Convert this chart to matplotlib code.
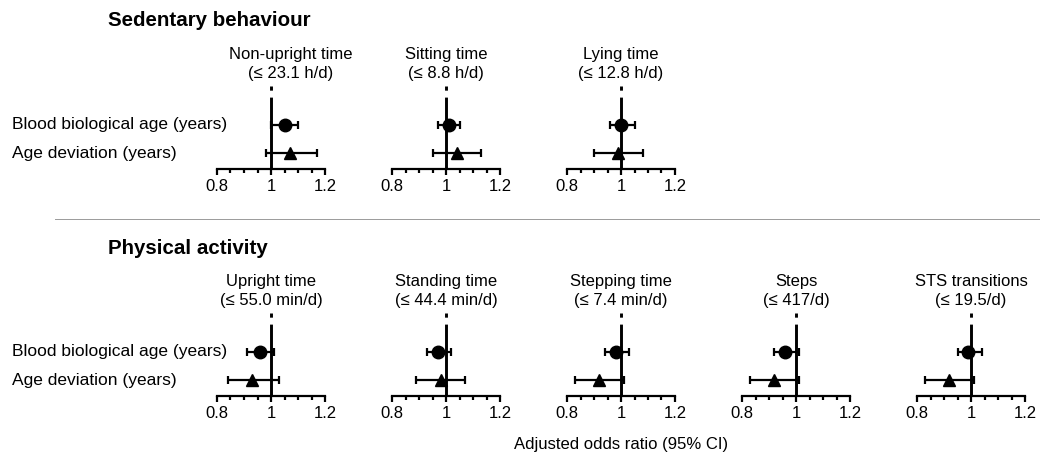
import matplotlib
import matplotlib.pyplot as plt
from matplotlib.ticker import MultipleLocator
from matplotlib.transforms import blended_transform_factory

matplotlib.use("Agg")

plt.rcParams["font.family"] = ["Liberation Sans", "DejaVu Sans"]
plt.rcParams["font.size"] = 12
plt.rcParams["lines.scale_dashes"] = False

# Sedentary behaviour (odds ratio, lower CI, upper CI)
sed_names = ["Non-upright time", "Sitting time", "Lying time"]
sed_cuts = ["(≤ 23.1 h/d)", "(≤ 8.8 h/d)", "(≤ 12.8 h/d)"]
sed_bio_or = [1.05, 1.01, 1.00]
sed_bio_lo = [1.00, 0.97, 0.96]
sed_bio_hi = [1.10, 1.05, 1.05]
sed_dev_or = [1.07, 1.04, 0.99]
sed_dev_lo = [0.98, 0.95, 0.90]
sed_dev_hi = [1.17, 1.13, 1.08]

# Physical activity
pa_names = ["Upright time", "Standing time", "Stepping time", "Steps", "STS transitions"]
pa_cuts = ["(≤ 55.0 min/d)", "(≤ 44.4 min/d)", "(≤ 7.4 min/d)", "(≤ 417/d)", "(≤ 19.5/d)"]
pa_bio_or = [0.96, 0.97, 0.98, 0.96, 0.99]
pa_bio_lo = [0.91, 0.93, 0.94, 0.92, 0.95]
pa_bio_hi = [1.01, 1.02, 1.03, 1.01, 1.04]
pa_dev_or = [0.93, 0.98, 0.92, 0.92, 0.92]
pa_dev_lo = [0.84, 0.89, 0.83, 0.83, 0.83]
pa_dev_hi = [1.03, 1.07, 1.01, 1.01, 1.01]

row_labels = ["Blood biological age (years)", "Age deviation (years)"]
tick_values = [0.8, 1.0, 1.2]
tick_labels = ["0.8", "1", "1.2"]
xlabel = "Adjusted odds ratio (95% CI)"

# layout in pixels
W, H = 1040, 455
PANEL_W, PANEL_H = 108, 83
PANEL_LEFTS = [217, 392, 567, 742, 917]
Y_BIO, Y_DEV = 0.535, 0.19
LW = 1.6

fig = plt.figure(figsize=(W / 100, H / 100), dpi=100)


def draw_panel(left, axis_y, name, cut, bio, dev, title_dx=0):
    ax = fig.add_axes([left / W, 1 - axis_y / H, PANEL_W / W, PANEL_H / H])
    ax.set_xlim(0.8, 1.2)
    ax.set_ylim(0, 1)
    ax.patch.set_visible(False)

    # reference line at OR = 1
    ax.plot([1, 1], [1, 0], color="black", lw=2.1, ls=(0, (3, 5, 200, 5)),
            clip_on=False, zorder=1)

    for (o, lo, hi), y, mk in ((bio, Y_BIO, "o"), (dev, Y_DEV, "^")):
        ax.errorbar([o], [y], xerr=[[o - lo], [hi - o]], fmt=mk, ms=9,
                    color="black", ecolor="black", elinewidth=LW,
                    capsize=3, capthick=LW, clip_on=False, zorder=3)

    for s in ("left", "top", "right"):
        ax.spines[s].set_visible(False)
    ax.spines["bottom"].set_linewidth(LW)
    ax.set_yticks([])
    ax.set_xticks(tick_values)
    ax.set_xticklabels(tick_labels)
    ax.xaxis.set_minor_locator(MultipleLocator(0.05))
    ax.tick_params(axis="x", which="major", direction="out", width=LW,
                   length=4.5, pad=2.5, labelsize=12)
    ax.tick_params(axis="x", which="minor", direction="out", width=LW, length=3)

    ax.annotate(name, xy=(1, 1), xycoords=("data", "axes fraction"),
                xytext=(title_dx, 19.7), textcoords="offset points",
                ha="center", va="baseline", fontsize=12)
    ax.annotate(cut, xy=(1, 1), xycoords=("data", "axes fraction"),
                xytext=(title_dx, 5.8), textcoords="offset points",
                ha="center", va="baseline", fontsize=12)
    return ax


def draw_row(axis_y, names, cuts, bio_or, bio_lo, bio_hi, dev_or, dev_lo, dev_hi, title_dxs):
    axes = []
    for i in range(len(names)):
        ax = draw_panel(PANEL_LEFTS[i], axis_y, names[i], cuts[i],
                        (bio_or[i], bio_lo[i], bio_hi[i]),
                        (dev_or[i], dev_lo[i], dev_hi[i]), title_dxs[i])
        axes.append(ax)
    tr = blended_transform_factory(fig.transFigure, axes[0].transData)
    axes[0].text(12 / W, Y_BIO, row_labels[0], transform=tr, ha="left", va="center", fontsize=12.5)
    axes[0].text(12 / W, Y_DEV, row_labels[1], transform=tr, ha="left", va="center", fontsize=12.5)
    return axes


draw_row(169, sed_names, sed_cuts, sed_bio_or, sed_bio_lo, sed_bio_hi,
         sed_dev_or, sed_dev_lo, sed_dev_hi, [14, 0, 0])
pa_axes = draw_row(396, pa_names, pa_cuts, pa_bio_or, pa_bio_lo, pa_bio_hi,
                   pa_dev_or, pa_dev_lo, pa_dev_hi, [0, 0, 0, 0, 0])

fig.text(108 / W, 1 - 26 / H, "Sedentary behaviour", fontsize=14.8,
         fontweight="bold", ha="left", va="baseline")
fig.text(108 / W, 1 - 254 / H, "Physical activity", fontsize=14.8,
         fontweight="bold", ha="left", va="baseline")

# separator
fig.add_artist(plt.Line2D([55 / W, 1.0], [1 - 219 / H, 1 - 219 / H],
                          color="#9a9a9a", lw=0.7))

pa_axes[2].text(1.0, 1 - 444 / H, xlabel, transform=blended_transform_factory(
    pa_axes[2].transData, fig.transFigure), ha="center", va="center", fontsize=12)

fig.savefig("out.png", dpi=100)
